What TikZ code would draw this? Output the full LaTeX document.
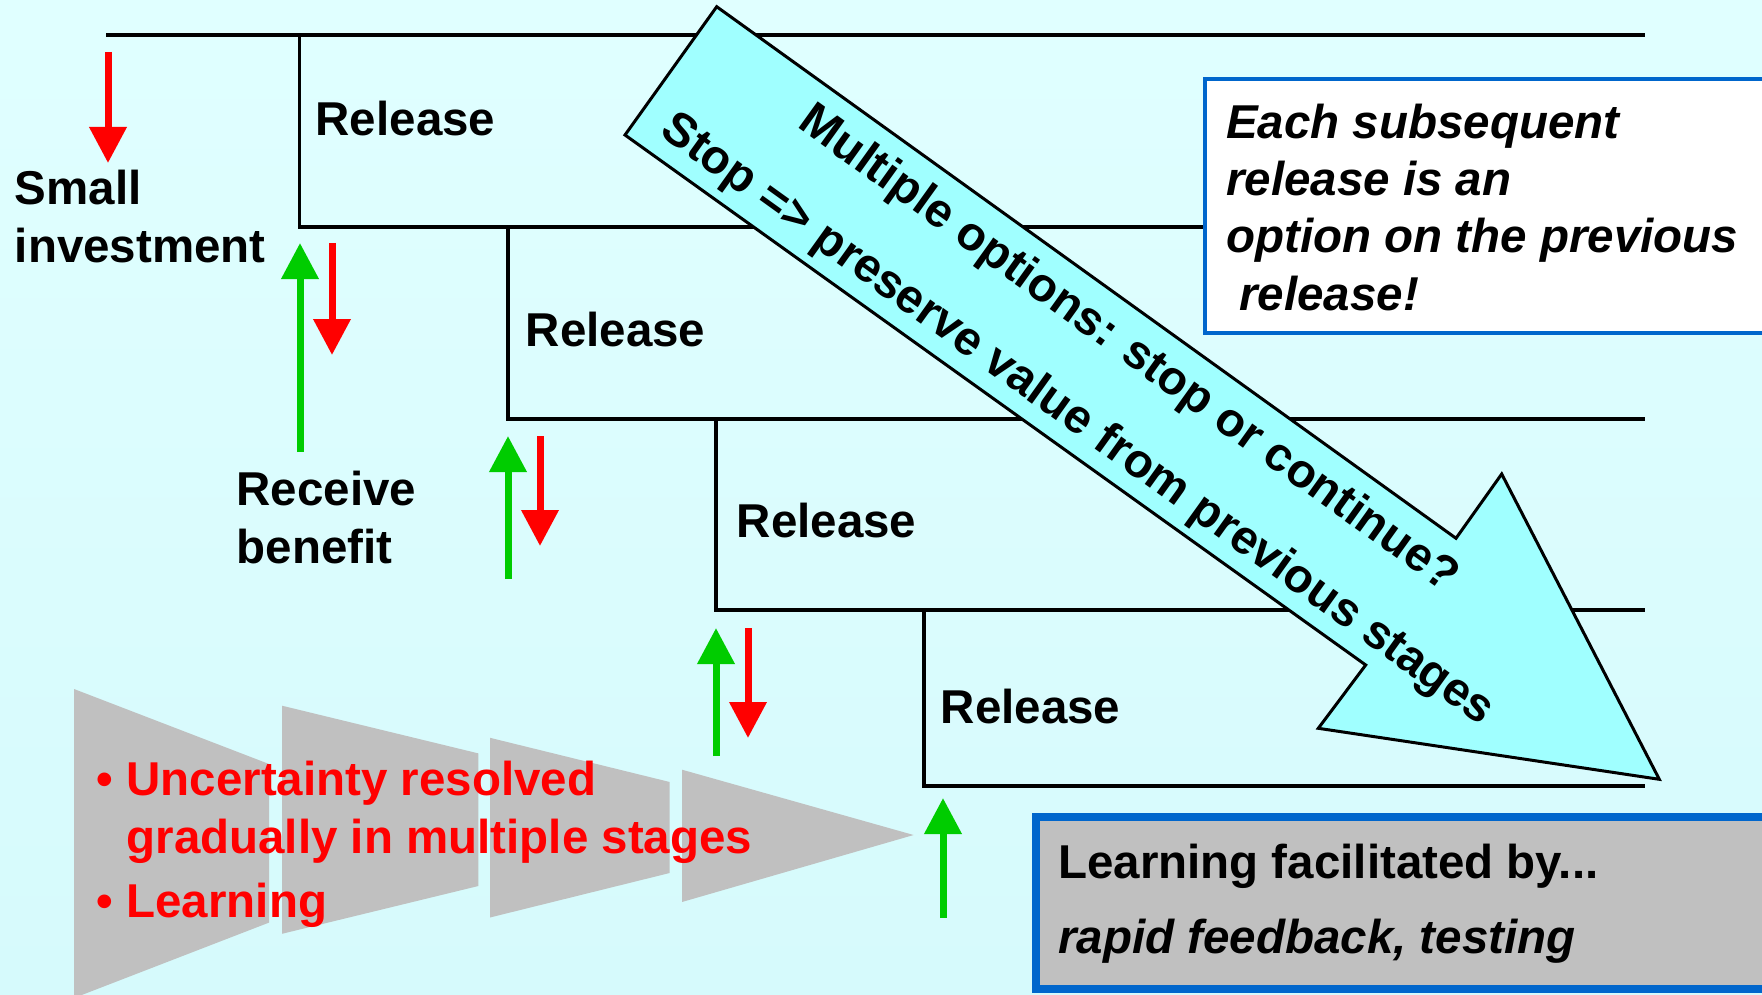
\documentclass[tikz,border=0pt]{standalone}
\usepackage{fontspec}
\setmainfont{Liberation Sans}
\usetikzlibrary{arrows.meta}

\definecolor{bgtop}{RGB}{224,255,255}
\definecolor{bgbot}{RGB}{214,250,252}
\definecolor{optcyan}{RGB}{160,255,255}
\definecolor{funnelgrey}{RGB}{192,192,192}
\definecolor{boxblue}{RGB}{0,102,204}
\definecolor{gaingreen}{RGB}{0,204,0}
\definecolor{costred}{RGB}{255,0,0}

\begin{document}
\begin{tikzpicture}[x=1pt,y=-1pt,
  % multi-line labels are placed by the baseline of their last line
  lbl/.style={font=\bfseries\fontsize{47.5}{57.5}\selectfont, inner sep=0pt,
              anchor=base west, align=left},
  arrowtxt/.style={font=\bfseries\fontsize{47.5}{57.5}\selectfont, inner sep=0pt,
              anchor=base, rotate=-35.7},
  stepline/.style={line width=3.2pt, black, line cap=rect},
  cost/.style={costred, line width=7pt, -{Triangle[width=36pt,length=36pt]}},
  gain/.style={gaingreen, line width=7pt, -{Triangle[width=36pt,length=36pt]}},
  funnel/.style={fill=funnelgrey},
]
\useasboundingbox (0,0) rectangle (1762,995);

% background wash
\shade[top color=bgtop, middle color=white, bottom color=bgbot]
  (0,0) rectangle (1762,995);

% narrowing uncertainty funnel
\fill[funnel] (74,689) -- (269,764) -- (269,922.6) -- (74,998) -- cycle;
\fill[funnel] (282,705.7) -- (478.4,753.4) -- (478.4,886) -- (282,933.8) -- cycle;
\fill[funnel] (490,737.8) -- (669.7,782) -- (669.7,873) -- (490,917.5) -- cycle;
\fill[funnel] (682,769.7) -- (913.6,835) -- (682,902) -- cycle;

% staircase of releases
\coordinate (top0) at (108,35);
\coordinate (c1) at (299.5,35);   \coordinate (c2) at (508,227);
\coordinate (c3) at (716,419);    \coordinate (c4) at (924,610);
\coordinate (e0) at (1643,35);
\draw[stepline] (top0) -- (e0);
\draw[stepline] (c1) |- (1643,227);
\draw[stepline] (c2) |- (1643,419);
\draw[stepline] (c3) |- (1643,610);
\draw[stepline] (c4) |- (1643,786);

% investment (down) and benefit (up) arrows
\coordinate (d0s) at (108,52);   \coordinate (d0e) at (108,163);
\coordinate (d1s) at (332,243);  \coordinate (d1e) at (332,355);
\coordinate (d2s) at (540,436);  \coordinate (d2e) at (540,546);
\coordinate (d3s) at (748,628);  \coordinate (d3e) at (748,738);
\coordinate (u1s) at (300,452);  \coordinate (u1e) at (300,243);
\coordinate (u2s) at (508,579);  \coordinate (u2e) at (508,436);
\coordinate (u3s) at (716,756);  \coordinate (u3e) at (716,628);
\coordinate (u4s) at (943,918);  \coordinate (u4e) at (943,798);
\draw[cost] (d0s) -- (d0e);
\draw[cost] (d1s) -- (d1e);
\draw[cost] (d2s) -- (d2e);
\draw[cost] (d3s) -- (d3e);
\draw[gain] (u1s) -- (u1e);
\draw[gain] (u2s) -- (u2e);
\draw[gain] (u3s) -- (u3e);
\draw[gain] (u4s) -- (u4e);

% labels
\node[lbl] (rel1) at (315.5,136) {Release};
\node[lbl] (rel2) at (525.5,346.7) {Release};
\node[lbl] (rel3) at (736.5,537) {Release};
\node[lbl] (rel4) at (940.5,723) {Release};
\node[lbl] (invest) at (14.7,262) {Small\\investment};
\node[lbl] (benefit) at (236.5,563) {Receive\\benefit};
\node[lbl, text=costred] (learn) at (96.5,917.5)
  {• Uncertainty resolved\\\hphantom{•~}gradually in multiple stages\\[7pt]• Learning};

% the option arrow
\draw[line width=3pt, fill=optcyan, line join=miter]
  (716.7,6.7) -- (1456,538.3) -- (1501.7,474) -- (1659.3,779.3)
  -- (1318.3,728.3) -- (1365.7,665) -- (625,135) -- cycle;
\node[arrowtxt] (opt1) at (1120.8,360) {Multiple options: stop or continue?};
\node[arrowtxt] (opt2) at (1069.9,430.6) {Stop => preserve value from previous stages};

% note boxes
\filldraw[fill=white, draw=boxblue, line width=3.5pt] (1205,79) rectangle (1790,333);
\node[lbl, font=\bfseries\itshape\fontsize{47.5}{57.3}\selectfont] (note) at (1226,310)
  {Each subsequent\\release is an\\option on the previous\\\mbox{}\ release!};
\filldraw[fill=funnelgrey, draw=boxblue, line width=7.5pt] (1036,817) rectangle (1790,989);
\node[lbl] (facil) at (1058,953.3)
  {Learning facilitated by...\\[17.5pt]\itshape rapid feedback, testing};
\end{tikzpicture}
\end{document}
